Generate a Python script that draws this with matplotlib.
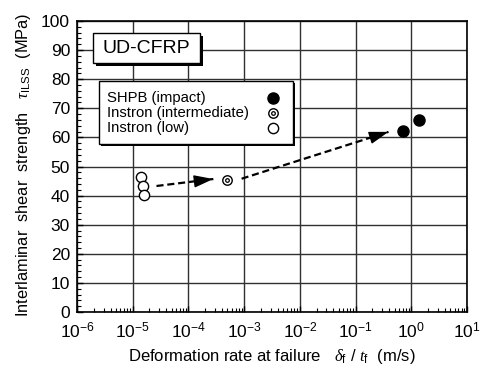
import numpy as np
import matplotlib
matplotlib.use('Agg')
import matplotlib.pyplot as plt
import matplotlib.patheffects as pe
from matplotlib.patches import Rectangle
from matplotlib.ticker import LogLocator, MultipleLocator, NullFormatter

plt.rcParams['font.family'] = ['Liberation Sans', 'DejaVu Sans']
plt.rcParams['mathtext.fontset'] = 'custom'
plt.rcParams['mathtext.rm'] = 'Liberation Sans'
plt.rcParams['mathtext.it'] = 'Liberation Serif:italic'

# data
low_rate = [1.43e-5, 1.54e-5, 1.59e-5]
low_ilss = [46.4, 43.2, 40.1]
mid_rate = [4.9e-4]
mid_ilss = [45.5]
imp_rate = [0.72, 1.36]
imp_ilss = [62.2, 65.9]

# trend arrows (start, end)
arrow1_x = [2.67e-5, 2.8e-4]
arrow1_y = [43.3, 45.7]
arrow2_x = [9.0e-4, 0.39]
arrow2_y = [45.8, 61.9]

legend_labels = ['SHPB (impact)', 'Instron (intermediate)', 'Instron (low)']

fig = plt.figure(figsize=(4.83, 3.68), dpi=100)
ax = fig.add_axes([0.1594, 0.1522, 0.8075, 0.7907])

ax.set_xscale('log')
ax.set_xlim(1e-6, 1e1)
ax.set_ylim(0, 100)

ax.grid(True, which='major', color='#303030', lw=1.0)
ax.set_axisbelow(True)

# dashed trend lines with a solid head at the end
for xs, ys in [(arrow1_x, arrow1_y), (arrow2_x, arrow2_y)]:
    ax.plot(xs, ys, color='k', lw=1.6, dashes=(3.2, 1.7), zorder=4)
    p0 = ax.transData.transform((xs[0], ys[0]))
    p1 = ax.transData.transform((xs[1], ys[1]))
    u = (p1 - p0) / np.hypot(*(p1 - p0))
    tail = ax.transData.inverted().transform(p1 - 12 * u)
    ax.annotate('', xy=(xs[1], ys[1]), xytext=tuple(tail),
                arrowprops=dict(arrowstyle='-|>,head_length=1.0,head_width=0.32',
                                color='k', lw=1.0, shrinkA=0, shrinkB=0,
                                mutation_scale=12), zorder=4)

ax.plot(low_rate, low_ilss, 'o', ms=7.4, mfc='white', mec='k', mew=1.0, zorder=5)
ax.plot(mid_rate, mid_ilss, 'o', ms=6.8, mfc='white', mec='k', mew=1.0, zorder=5)
ax.plot(mid_rate, mid_ilss, 'o', ms=2.6, mfc='white', mec='k', mew=0.9, zorder=6)
ax.plot(imp_rate, imp_ilss, 'o', ms=8.0, mfc='k', mec='k', zorder=5)

ax.xaxis.set_major_locator(LogLocator(base=10, numticks=10))
ax.xaxis.set_minor_locator(LogLocator(base=10, subs=np.arange(2, 10), numticks=10))
ax.xaxis.set_minor_formatter(NullFormatter())
ax.yaxis.set_major_locator(MultipleLocator(10))
ax.yaxis.set_minor_locator(MultipleLocator(2))

ax.tick_params(which='both', direction='in', top=False, right=False)
ax.tick_params(which='major', length=4, labelsize=12.5, width=1)
ax.tick_params(which='minor', length=3, width=0.8)
ax.tick_params(axis='y', pad=5)
ax.tick_params(axis='x', pad=6)
for s in ax.spines.values():
    s.set_linewidth(1.2)

ax.set_xlabel(r'Deformation rate at failure   $\delta_{\rm f}$ / $t_{\rm f}$  (m/s)',
              fontsize=12)
ax.xaxis.set_label_coords(0.5, -0.12)
ax.set_ylabel(r'Interlaminar  shear  strength   $\tau_{\rm ILSS}$  (MPa)',
              fontsize=11.8)
ax.yaxis.set_label_coords(-0.113, 0.505)

shadow = [pe.SimplePatchShadow(offset=(2.5, -2.5), shadow_rgbFace='k', alpha=1.0),
          pe.Normal()]

# title box
box = Rectangle((0.041, 0.856), 0.274, 0.103, transform=ax.transAxes,
                fc='white', ec='k', lw=1.0, zorder=9)
box.set_path_effects(shadow)
ax.add_patch(box)
ax.text(0.178, 0.906, 'UD-CFRP', transform=ax.transAxes, fontsize=14,
        ha='center', va='center', zorder=10)

# legend box, text on the left, marker on the right
lbox = Rectangle((0.0564, 0.577), 0.497, 0.217, transform=ax.transAxes,
                 fc='white', ec='k', lw=1.0, zorder=9)
lbox.set_path_effects([pe.SimplePatchShadow(offset=(1.3, -1.3), shadow_rgbFace='k',
                                            alpha=1.0), pe.Normal()])
ax.add_patch(lbox)
row_y = [0.737, 0.684, 0.632]
for lab, yy in zip(legend_labels, row_y):
    ax.text(0.077, yy, lab, transform=ax.transAxes, fontsize=10.7,
            ha='left', va='center', zorder=10)
mx = 0.5026
ax.plot([mx], [row_y[0]], 'o', ms=8.0, mfc='k', mec='k',
        transform=ax.transAxes, zorder=11, clip_on=False)
ax.plot([mx], [row_y[1]], 'o', ms=6.8, mfc='white', mec='k', mew=1.0,
        transform=ax.transAxes, zorder=11, clip_on=False)
ax.plot([mx], [row_y[1]], 'o', ms=2.6, mfc='white', mec='k', mew=0.9,
        transform=ax.transAxes, zorder=12, clip_on=False)
ax.plot([mx], [row_y[2]], 'o', ms=7.4, mfc='white', mec='k', mew=1.0,
        transform=ax.transAxes, zorder=11, clip_on=False)

fig.savefig('out.png', dpi=100)
